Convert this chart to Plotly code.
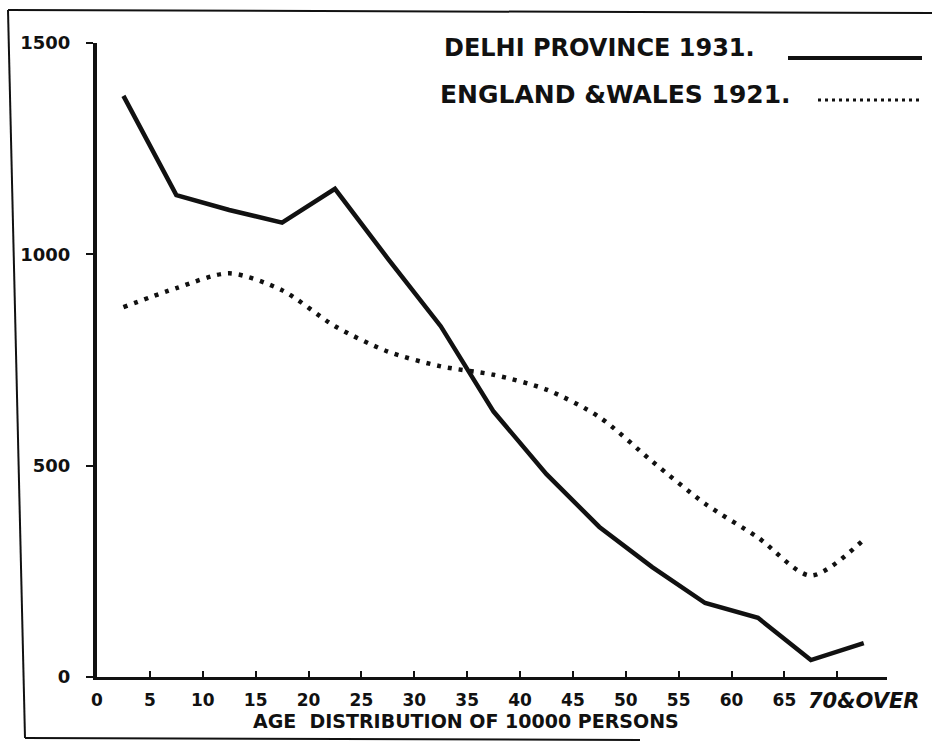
import plotly.graph_objects as go

# ---- data (per 10000 persons, plotted at mid-points of 5-year age groups) ----
age_mid = [2.5, 7.5, 12.5, 17.5, 22.5, 27.5, 32.5, 37.5, 42.5, 47.5, 52.5, 57.5, 62.5, 67.5, 72.5]
delhi_1931 = [1375, 1140, 1105, 1075, 1155, 990, 830, 628, 480, 355, 260, 175, 140, 40, 80]
england_wales_1921 = [875, 920, 955, 915, 830, 770, 735, 715, 680, 615, 510, 410, 330, 240, 325]

x_tick_vals = [0, 5, 10, 15, 20, 25, 30, 35, 40, 45, 50, 55, 60, 65, 70]
x_tick_text = ["0", "5", "10", "15", "20", "25", "30", "35", "40", "45", "50", "55", "60", "65", ""]
last_group_label = "70&OVER"
last_group_pos = 72.5
y_tick_vals = [0, 500, 1000, 1500]
y_tick_text = ["0", "500", "1000", "1500"]

legend_names = ["DELHI PROVINCE 1931.", "ENGLAND &WALES 1921."]
x_title = "AGE  DISTRIBUTION OF 10000 PERSONS"

FONT = "DejaVu Sans"
INK = "#111111"

fig = go.Figure()
fig.add_trace(go.Scatter(
    x=age_mid, y=delhi_1931, mode="lines", name=legend_names[0],
    line=dict(color=INK, width=4.5), showlegend=False, hoverinfo="x+y"))
fig.add_trace(go.Scatter(
    x=age_mid, y=england_wales_1921, mode="lines", name=legend_names[1],
    line=dict(color=INK, width=4.5, dash="4px,7px", shape="spline", smoothing=0.8),
    showlegend=False, hoverinfo="x+y"))

W, H = 932, 750
L, R, T, B = 97, 45, 43, 73

def px_x(p):
    return (p - L) / (W - L - R)

def px_y(p):
    return (H - B - p) / (H - T - B)

# legend (text followed by line sample, as on the original)
fig.add_annotation(text=legend_names[0], xref="paper", yref="paper",
                   x=px_x(442), y=px_y(48), xanchor="left", yanchor="middle",
                   showarrow=False, font=dict(family=FONT, size=24, color=INK, weight=700))
fig.add_annotation(text=legend_names[1], xref="paper", yref="paper",
                   x=px_x(438), y=px_y(94), xanchor="left", yanchor="middle",
                   showarrow=False, font=dict(family=FONT, size=25, color=INK, weight=700))
fig.add_shape(type="line", xref="paper", yref="paper",
              x0=px_x(788), x1=px_x(922), y0=px_y(58), y1=px_y(58),
              line=dict(color=INK, width=4))
fig.add_shape(type="line", xref="paper", yref="paper",
              x0=px_x(818), x1=px_x(922), y0=px_y(100), y1=px_y(100),
              line=dict(color=INK, width=3, dash="3px,4px"))

# last age group label and axis title
fig.add_annotation(text="<i>" + last_group_label + "</i>", xref="x", yref="paper",
                   x=last_group_pos, y=px_y(701), xanchor="center", yanchor="middle",
                   showarrow=False, font=dict(family=FONT, size=21, color=INK, weight=700))
fig.add_annotation(text=x_title, xref="paper", yref="paper",
                   x=px_x(466), y=px_y(721), xanchor="center", yanchor="middle",
                   showarrow=False, font=dict(family=FONT, size=19, color=INK, weight=700))

# outer frame of the plate
frame = dict(color=INK, width=2)
fig.add_shape(type="line", xref="paper", yref="paper",
              x0=px_x(8), y0=px_y(10), x1=px_x(932), y1=px_y(13), line=frame)
fig.add_shape(type="line", xref="paper", yref="paper",
              x0=px_x(8), y0=px_y(10), x1=px_x(25), y1=px_y(738), line=frame)
fig.add_shape(type="line", xref="paper", yref="paper",
              x0=px_x(25), y0=px_y(738), x1=px_x(640), y1=px_y(740), line=frame)

fig.update_layout(
    width=W, height=H,
    margin=dict(l=L, r=R, t=T, b=B),
    paper_bgcolor="white", plot_bgcolor="white",
    font=dict(family=FONT, color=INK),
    xaxis=dict(
        range=[0, 74.7], showgrid=False, zeroline=False,
        showline=True, linecolor=INK, linewidth=3,
        tickmode="array", tickvals=x_tick_vals, ticktext=x_tick_text,
        ticks="inside", ticklen=6, tickwidth=2, tickcolor=INK,
        ticklabelstandoff=6,
        tickfont=dict(family=FONT, size=17, color=INK, weight=700),
    ),
    yaxis=dict(
        range=[0, 1500], showgrid=False, zeroline=False,
        showline=True, linecolor=INK, linewidth=4,
        tickmode="array", tickvals=y_tick_vals, ticktext=y_tick_text,
        ticks="outside", ticklen=7, tickwidth=2, tickcolor=INK,
        ticklabelstandoff=12,
        tickfont=dict(family=FONT, size=18, color=INK, weight=700),
    ),
)

fig.write_html("out.html", config={"displayModeBar": False},
               post_script="document.body.style.margin='0';document.body.style.overflow='hidden';")
